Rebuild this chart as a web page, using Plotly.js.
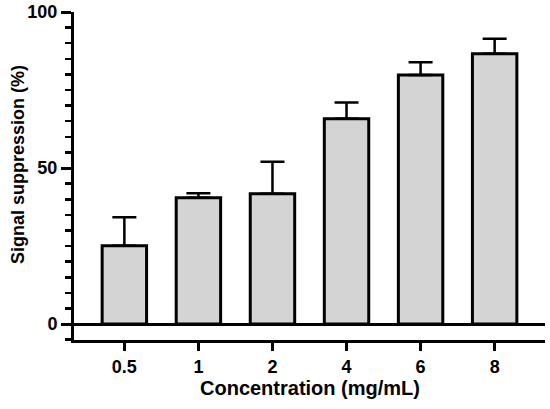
<!DOCTYPE html>
<html><head><meta charset="utf-8">
<script src="https://cdn.plot.ly/plotly-3.0.1.min.js"></script>
<style>html,body{margin:0;padding:0;background:#fff}#chart{width:550px;height:409px}</style>
</head><body><div id="chart"></div>
<script>
const categories = ["0.5", "1", "2", "4", "6", "8"];
const meanValues = [25.1, 40.5, 41.8, 65.8, 79.8, 86.6];
const errorPlus = [9.1, 1.4, 10.2, 5.2, 4.1, 4.8];
const errorMinus = [0, 0, 0, 0, 0, 0];
const yTickVals = [0, 50, 100];
const xTitle = 'Concentration (mg/mL)';
const yTitle = 'Signal suppression (%)';

const bold = s => '<b>' + s + '</b>';
const fam = 'Liberation Sans, Arial, sans-serif';

const trace = {
  type: 'bar',
  x: categories,
  y: meanValues,
  width: 0.6,
  marker: {color: '#d4d4d4', line: {color: '#000', width: 3}},
  error_y: {type: 'data', symmetric: false, array: errorPlus, arrayminus: errorMinus,
            color: '#000', thickness: 2.5, width: 12},
  hoverinfo: 'none'
};
const tickFont = {family: fam, size: 18, color: '#000'};
const layout = {
  width: 550, height: 409,
  margin: {l: 74, r: 5, t: 12, b: 69},
  paper_bgcolor: '#fff', plot_bgcolor: '#fff',
  showlegend: false,
  font: {family: fam, color: '#000'},
  xaxis: {
    type: 'category', range: [-0.68, 5.68],
    tickvals: categories, ticktext: categories.map(bold),
    showline: true, linecolor: '#000', linewidth: 3,
    ticks: 'outside', ticklen: 8, tickwidth: 3, tickcolor: '#000',
    showgrid: false, zeroline: false,
    tickfont: tickFont
  },
  yaxis: {
    range: [-5.1, 100],
    tickvals: yTickVals, ticktext: yTickVals.map(v => bold(String(v))),
    showline: true, linecolor: '#000', linewidth: 3,
    ticks: 'outside', ticklen: 10, tickwidth: 3, tickcolor: '#000',
    minor: {dtick: 5, ticks: 'outside', ticklen: 6, tickwidth: 2.5, tickcolor: '#000', showgrid: false},
    showgrid: false,
    zeroline: true, zerolinecolor: '#000', zerolinewidth: 3,
    tickfont: tickFont
  },
  annotations: [
    {text: bold(xTitle), xref: 'paper', yref: 'paper', x: 0.5, y: 0, yshift: -48,
     xanchor: 'center', yanchor: 'middle', showarrow: false, font: {family: fam, size: 20, color: '#000'}},
    {text: bold(yTitle), xref: 'paper', yref: 'paper', x: 0, y: 0.5335, xshift: -56, textangle: -90,
     xanchor: 'center', yanchor: 'middle', showarrow: false, font: {family: fam, size: 18, color: '#000'}}
  ]
};
Plotly.newPlot('chart', [trace], layout, {displayModeBar: false, staticPlot: true});
</script></body></html>
